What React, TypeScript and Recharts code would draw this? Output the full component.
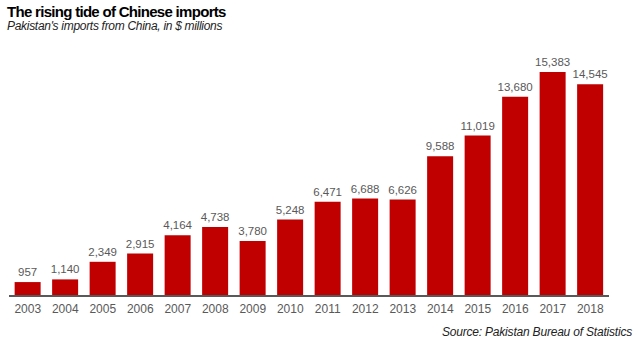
import React from 'react';
import { BarChart, Bar, XAxis, YAxis, LabelList } from 'recharts';

const years = ['2003', '2004', '2005', '2006', '2007', '2008', '2009', '2010', '2011', '2012', '2013', '2014', '2015', '2016', '2017', '2018'];
const imports = [957, 1140, 2349, 2915, 4164, 4738, 3780, 5248, 6471, 6688, 6626, 9588, 11019, 13680, 15383, 14545];

const data = years.map((y, i) => ({ year: y, value: imports[i] }));

const font = '"Liberation Sans", Arial, sans-serif';

export default function App() {
  return (
    <div style={{ position: 'fixed', left: 0, top: 0, width: 640, height: 351, background: '#fff', fontFamily: font }}>
      <div style={{ position: 'absolute', left: 7, top: 3, fontSize: 15, fontWeight: 'bold', color: '#000', letterSpacing: -0.7 }}>
        The rising tide of Chinese imports
      </div>
      <div style={{ position: 'absolute', left: 7, top: 19, fontSize: 12, fontStyle: 'italic', color: '#222', letterSpacing: -0.3 }}>
        Pakistan's imports from China,  in $ millions
      </div>
      <BarChart width={640} height={351} data={data} margin={{ top: 63, right: 31, bottom: 35, left: 9 }} barCategoryGap="15%">
        <YAxis hide domain={[0, 16000]} />
        <XAxis
          dataKey="year"
          height={20}
          tickLine={false}
          axisLine={{ stroke: '#595959', strokeWidth: 2 }}
          tick={{ fill: '#595959', fontSize: 12, fontFamily: font }}
          tickMargin={2}
          interval={0}
        />
        <Bar dataKey="value" fill="#c00000" isAnimationActive={false}>
          <LabelList
            dataKey="value"
            position="top"
            offset={6}
            formatter={(v: any) => Number(v).toLocaleString('en-US')}
            style={{ fill: '#595959', fontSize: 11.5, fontFamily: font }}
          />
        </Bar>
      </BarChart>
      <div style={{ position: 'absolute', right: 8, top: 325, fontSize: 12, fontStyle: 'italic', color: '#222', letterSpacing: -0.2 }}>
        Source: Pakistan Bureau of Statistics
      </div>
    </div>
  );
}
